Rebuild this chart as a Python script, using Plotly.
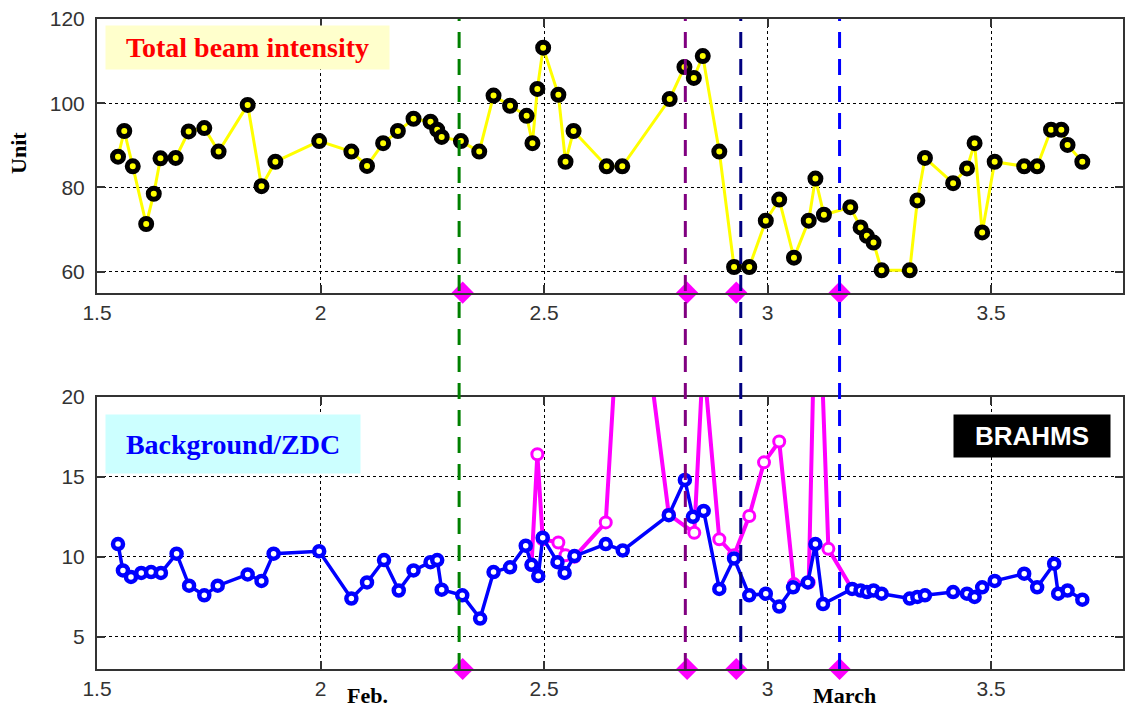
import plotly.graph_objects as go

# ---------------- data ----------------
# Top panel: total beam intensity
beam_x = [1.547, 1.561, 1.580, 1.610, 1.627, 1.642, 1.676, 1.705, 1.740, 1.772,
          1.837, 1.868, 1.899, 1.997, 2.069, 2.104, 2.140, 2.173, 2.208, 2.246,
          2.261, 2.271, 2.314, 2.355, 2.387, 2.424, 2.461, 2.474, 2.485, 2.498,
          2.532, 2.548, 2.566, 2.640, 2.675, 2.781, 2.814, 2.835, 2.855, 2.892,
          2.925, 2.959, 2.996, 3.026, 3.059, 3.092, 3.107, 3.126, 3.185, 3.208,
          3.222, 3.237, 3.255, 3.318, 3.335, 3.352, 3.415, 3.446, 3.463, 3.480,
          3.508, 3.574, 3.603, 3.634, 3.657, 3.671, 3.704]
beam_y = [87.3, 93.4, 85.0, 71.3, 78.5, 86.9, 87.0, 93.3, 94.1, 88.5,
          99.6, 80.3, 86.1, 91.0, 88.5, 85.1, 90.5, 93.4, 96.3, 95.6,
          93.7, 92.0, 91.0, 88.5, 101.8, 99.4, 97.0, 90.5, 103.4, 113.2,
          102.0, 86.1, 93.4, 85.0, 85.0, 101.0, 108.6, 106.0, 111.2, 88.5,
          61.1, 61.1, 72.1, 77.1, 63.3, 72.1, 82.1, 73.5, 75.3, 70.5,
          68.5, 66.9, 60.3, 60.3, 76.9, 87.0, 81.0, 84.5, 90.5, 69.3,
          86.1, 85.0, 85.0, 93.7, 93.7, 90.1, 86.1]

# Bottom panel: background / ZDC (blue)
bg_x = [1.547, 1.558, 1.576, 1.599, 1.621, 1.643, 1.678, 1.706, 1.740, 1.770,
        1.837, 1.868, 1.895, 1.997, 2.069, 2.104, 2.142, 2.175, 2.208, 2.246,
        2.261, 2.271, 2.317, 2.357, 2.387, 2.424, 2.459, 2.472, 2.487, 2.497,
        2.530, 2.546, 2.568, 2.638, 2.676, 2.779, 2.815, 2.833, 2.857, 2.892,
        2.925, 2.959, 2.996, 3.026, 3.057, 3.090, 3.107, 3.124, 3.189, 3.208,
        3.222, 3.237, 3.255, 3.318, 3.335, 3.352, 3.415, 3.446, 3.463, 3.480,
        3.508, 3.574, 3.603, 3.641, 3.650, 3.671, 3.704]
bg_y = [10.8, 9.15, 8.75, 9.0, 9.05, 9.0, 10.2, 8.2, 7.6, 8.2,
        8.9, 8.5, 10.2, 10.35, 7.4, 8.4, 9.8, 7.9, 9.15, 9.67,
        9.8, 7.95, 7.6, 6.15, 9.05, 9.35, 10.7, 9.5, 8.8, 11.2,
        9.67, 9.0, 10.05, 10.8, 10.4, 12.6, 14.8, 12.5, 12.87, 8.0,
        9.9, 7.6, 7.7, 6.9, 8.1, 8.4, 10.8, 7.05, 8.0, 7.9,
        7.8, 7.9, 7.7, 7.4, 7.5, 7.6, 7.8, 7.7, 7.5, 8.1,
        8.5, 8.95, 8.1, 9.57, 7.7, 7.9, 7.33]

# Bottom panel: second background series (magenta), spikes go off scale
bg2_x = [2.472, 2.485, 2.497, 2.532, 2.548, 2.568, 2.638, 2.684, 2.779, 2.836,
         2.856, 2.892, 2.925, 2.959, 2.992, 3.026, 3.059, 3.092, 3.110, 3.136,
         3.189]
bg2_y = [9.5, 16.4, 11.1, 10.9, 10.1, 10.0, 12.15, 33.5, 12.65, 11.5,
         22.5, 11.1, 10.1, 12.55, 15.9, 17.2, 8.3, 8.4, 30.8, 10.5,
         8.0]

# Event markers (vertical dashed lines and magenta diamonds)
event_line_x = [2.310, 2.816, 2.940, 3.161]
event_line_colors = ["#008000", "#800080", "#000080", "#0000ff"]
event_diamond_x = [2.318, 2.820, 2.930, 3.161]

x_ticks = [1.5, 2, 2.5, 3, 3.5]
x_ticktext = ["1.5", "2", "2.5", "3", "3.5"]
top_yticks = [60, 80, 100, 120]
bot_yticks = [5, 10, 15, 20]
top_range = [55, 120]
bot_range = [3, 20]
x_range = [1.5, 3.795]

# ---------------- figure ----------------
fig = go.Figure()

fig.add_trace(go.Scatter(
    x=beam_x, y=beam_y, xaxis="x", yaxis="y", mode="lines+markers",
    line=dict(color="#ffff00", width=3),
    marker=dict(symbol="circle", size=11, color="#ffff00",
                line=dict(color="black", width=5)),
    showlegend=False))

fig.add_trace(go.Scatter(
    x=bg2_x, y=bg2_y, xaxis="x2", yaxis="y2", mode="lines+markers",
    line=dict(color="#ff00ff", width=4),
    marker=dict(symbol="circle", size=11, color="white",
                line=dict(color="#ff00ff", width=3)),
    showlegend=False))

fig.add_trace(go.Scatter(
    x=bg_x, y=bg_y, xaxis="x2", yaxis="y2", mode="lines+markers",
    line=dict(color="#0000ff", width=3.5),
    marker=dict(symbol="circle", size=10, color="white",
                line=dict(color="#0000ff", width=4.5)),
    showlegend=False))

for xa, ya, rng in (("x", "y", top_range), ("x2", "y2", bot_range)):
    fig.add_trace(go.Scatter(
        x=event_diamond_x, y=[rng[0]] * len(event_diamond_x),
        xaxis=xa, yaxis=ya, mode="markers", cliponaxis=False,
        marker=dict(symbol="diamond", size=17, color="#ff00ff", line=dict(width=0)),
        showlegend=False))

for lx, lc in zip(event_line_x, event_line_colors):
    fig.add_shape(type="line", xref="x", yref="paper", x0=lx, x1=lx, y0=0, y1=1,
                  line=dict(color=lc, width=3, dash="16px,11px"), layer="above")

tick_font = dict(family="Liberation Sans, Arial, sans-serif", size=21, color="#333333")
common_x = dict(range=x_range, tickvals=x_ticks, ticktext=x_ticktext,
                showgrid=True, gridcolor="black", griddash="dot", gridwidth=1,
                showline=True, linecolor="#333333", linewidth=2, mirror="ticks",
                ticks="inside", ticklen=8, tickwidth=2, tickcolor="#333333",
                zeroline=False, tickfont=tick_font)
common_y = dict(showgrid=True, gridcolor="black", griddash="dot", gridwidth=1,
                showline=True, linecolor="#333333", linewidth=2, mirror="ticks",
                ticks="inside", ticklen=8, tickwidth=2, tickcolor="#333333",
                zeroline=False, tickfont=tick_font, ticklabelstandoff=6)

serif = "Liberation Serif, Times New Roman, serif"

fig.update_layout(
    width=1125, height=709,
    margin=dict(l=97, r=0, t=19, b=40),
    paper_bgcolor="white", plot_bgcolor="white",
    xaxis=dict(domain=[0, 1], anchor="y", **common_x),
    yaxis=dict(domain=[0.579, 1], anchor="x", range=top_range, tickvals=top_yticks, **common_y),
    xaxis2=dict(domain=[0, 1], anchor="y2", **common_x),
    yaxis2=dict(domain=[0, 0.419], anchor="x2", range=bot_range, tickvals=bot_yticks, **common_y),
    annotations=[
        dict(text="<b>Total beam intensity</b>", xref="x", yref="y", x=1.518, y=118.6,
             xanchor="left", yanchor="top", width=283, height=43, borderpad=0,
             bgcolor="#ffffcc", showarrow=False,
             font=dict(family=serif, size=28, color="#ff0000")),
        dict(text="<b>Background/ZDC</b>", xref="x2", yref="y2", x=1.518, y=18.92,
             xanchor="left", yanchor="top", width=254, height=58, borderpad=0,
             bgcolor="#ccffff", showarrow=False,
             font=dict(family=serif, size=28, color="#0000ff")),
        dict(text="<b>BRAHMS</b>", xref="x2", yref="y2", x=3.415, y=18.92,
             xanchor="left", yanchor="top", width=156, height=42, borderpad=0,
             bgcolor="black", showarrow=False,
             font=dict(family="Liberation Sans, Arial, sans-serif", size=26, color="white")),
        dict(text="<b>Unit</b>", xref="paper", yref="paper", x=-0.076, y=0.794,
             xanchor="center", yanchor="middle",
             textangle=-90, showarrow=False,
             font=dict(family=serif, size=22, color="black")),
        dict(text="<b>Feb.</b>", xref="paper", yref="paper", x=0.2636, y=-0.04,
             xanchor="center", yanchor="middle",
             showarrow=False, font=dict(family=serif, size=22, color="black")),
        dict(text="<b>March</b>", xref="paper", yref="paper", x=0.7286, y=-0.04,
             xanchor="center", yanchor="middle",
             showarrow=False, font=dict(family=serif, size=22, color="black")),
    ],
)

fig.write_html("out.html")
